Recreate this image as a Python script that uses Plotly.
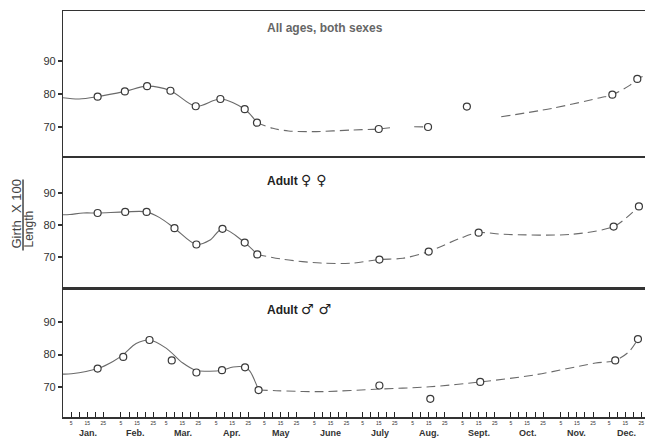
import plotly.graph_objects as go

# ---------------- data ----------------
months = ["Jan.", "Feb.", "Mar.", "Apr.", "May", "June", "July", "Aug.", "Sept.", "Oct.", "Nov.", "Dec."]
month_len = [31, 28, 31, 30, 31, 30, 31, 31, 30, 31, 30, 31]
day_ticks = [5, 10, 15, 20, 25]
day_tick_labels = ["5", "", "15", "", "25"]

SYM = "<span style='font-family:DejaVu Sans;font-size:14px'>"
panel_titles = ["<b>All ages, both sexes</b>",
                "<b>Adult " + SYM + "♀ ♀</span></b>",
                "<b>Adult " + SYM + "♂ ♂</span></b>"]

# observed points (day of year, girth x 100 / length)
all_x = [21.5, 38.4, 52.2, 66.7, 82.4, 97.7, 112.8, 120.4, 196, 226.6, 250.7, 341, 356.5]
all_y = [79.2, 80.8, 82.4, 81.0, 76.3, 78.5, 75.4, 71.3, 69.4, 70.0, 76.2, 79.8, 84.6]
fem_x = [21.5, 38.6, 51.9, 69.2, 82.8, 99, 112.8, 120.6, 196.4, 227, 258, 341.8, 357.5]
fem_y = [83.75, 84.1, 84.1, 79.0, 73.9, 78.8, 74.5, 70.8, 69.2, 71.7, 77.6, 79.5, 85.8]
mal_x = [21.5, 37.4, 53.7, 67.5, 82.8, 98.7, 113, 121.4, 196.4, 228, 259, 342.8, 356.9]
mal_y = [75.7, 79.3, 84.5, 78.2, 74.5, 75.2, 76.1, 69.1, 70.5, 66.4, 71.6, 78.2, 84.8]

# fitted curves
all_solid_x = [0, 10, 21.5, 38.4, 52.2, 66.7, 82.4, 97.7, 112.8, 120.4]
all_solid_y = [78.9, 78.5, 79.2, 80.8, 82.4, 81.0, 76.3, 78.5, 75.4, 71.3]
all_dash_x = [120.4, 130.3, 140, 155, 180, 196, 203, None, 218, 226.6, None,
              272, 304, 333.5, 341, 352, 356.5, 365]
all_dash_y = [71.3, 69.6, 68.8, 68.6, 69.1, 69.4, 69.8, None, 70.1, 70.0, None,
              73.1, 75.7, 78.9, 79.8, 82.7, 84.6, 86.3]

fem_solid_x = [0, 4.3, 12.6, 21.5, 38.6, 51.9, 60, 69.2, 82.8, 91, 99, 112.8, 120.6]
fem_solid_y = [83.2, 83.3, 83.75, 83.75, 84.1, 84.1, 82.3, 79.0, 73.9, 75.2, 78.8, 74.5, 70.8]
fem_dash_x = [120.6, 136.5, 160, 180, 196.4, 211, 227, 246.3, 258, 273, 316, 341.8, 349.8, 357.5]
fem_dash_y = [70.8, 69.3, 68.1, 68.1, 69.2, 69.6, 71.7, 75.8, 77.6, 77.1, 77.1, 79.5, 82.3, 85.8]

mal_solid_x = [0, 5.3, 21.5, 31, 37.4, 45.4, 53.7, 64, 74.4, 82.7, 91, 98.7, 105.6, 113, 116, 121.4]
mal_solid_y = [74.0, 74.1, 75.7, 77.9, 80.0, 83.4, 84.5, 82.0, 77.4, 75.1, 74.9, 75.2, 76.2, 76.1, 74.9, 69.1]
mal_dash_x = [121.4, 132.4, 159.3, 196.6, 227.6, 259, 293.3, 330.6, 342.8, 351.5, 356.9]
mal_dash_y = [69.1, 68.9, 68.6, 69.4, 70.1, 71.6, 73.8, 77.4, 78.2, 81.0, 84.8]

# ---------------- figure ----------------
month_start = [sum(month_len[:i]) for i in range(12)]
tickvals, ticktext = [], []
for s in month_start:
    for d, t in zip(day_ticks, day_tick_labels):
        tickvals.append(s + d)
        ticktext.append(t)

LINE = "#6a6a6a"
MK = dict(symbol="circle", size=7, color="white", line=dict(color="#3a3a3a", width=1.2))

fig = go.Figure()
panels = [
    ("x", "y", all_x, all_y, all_solid_x, all_solid_y, all_dash_x, all_dash_y),
    ("x2", "y2", fem_x, fem_y, fem_solid_x, fem_solid_y, fem_dash_x, fem_dash_y),
    ("x3", "y3", mal_x, mal_y, mal_solid_x, mal_solid_y, mal_dash_x, mal_dash_y),
]
for xa, ya, px, py, sx, sy, dx, dy in panels:
    fig.add_trace(go.Scatter(x=sx, y=sy, mode="lines", xaxis=xa, yaxis=ya,
                             line=dict(color=LINE, width=1.1, shape="spline", smoothing=0.9)))
    fig.add_trace(go.Scatter(x=dx, y=dy, mode="lines", xaxis=xa, yaxis=ya, connectgaps=False,
                             line=dict(color=LINE, width=1.1, shape="spline", smoothing=0.9,
                                       dash="9px,5px")))
    fig.add_trace(go.Scatter(x=px, y=py, mode="markers", xaxis=xa, yaxis=ya, marker=MK))

# month boundary dots on the time axis
fig.add_trace(go.Scatter(x=month_start[1:], y=[59.7] * 11, mode="markers", xaxis="x3", yaxis="y3",
                         cliponaxis=False, marker=dict(size=4, color="#222")))

axis_common = dict(range=[0, 365], showline=True, mirror=True, linecolor="#333", linewidth=1.3,
                   showgrid=False, zeroline=False)
yaxis_common = dict(showline=True, mirror=True, linecolor="#333", linewidth=1.3, showgrid=False,
                    zeroline=False, tickvals=[70, 80, 90], ticks="outside", ticklen=4,
                    tickwidth=1.5, tickcolor="#333",
                    tickfont=dict(family="Liberation Sans, Arial", size=11, color="#333"))

# the page body adds an 8 px offset; the figure is sized to compensate
OFF = 8
fig.update_layout(
    width=653 - OFF, height=441 - OFF,
    margin=dict(l=63 - OFF, r=2, t=11 - OFF, b=24),
    paper_bgcolor="white", plot_bgcolor="white",
    showlegend=False,
    xaxis=dict(domain=[0, 1], anchor="y", showticklabels=False, ticks="", **axis_common),
    xaxis2=dict(domain=[0, 1], anchor="y2", showticklabels=False, ticks="", **axis_common),
    xaxis3=dict(domain=[0, 1], anchor="y3", ticks="inside", ticklen=5, tickwidth=1,
                tickcolor="#222", tickvals=tickvals, ticktext=ticktext,
                tickfont=dict(family="Liberation Sans, Arial", size=5, color="#333"),
                **{**axis_common, "linewidth": 2}),
    yaxis=dict(domain=[0.6404, 1], anchor="x", range=[60.9, 105.2], **yaxis_common),
    yaxis2=dict(domain=[0.3153, 0.6404], anchor="x2", range=[60.0, 101.25], **yaxis_common),
    yaxis3=dict(domain=[0, 0.3153], anchor="x3", range=[60.8, 100.2], **yaxis_common),
)

annotations = []
title_pos = [(0.958, "#666"), (0.584, "#222"), (0.266, "#222")]
for t, (yy, col) in zip(panel_titles, title_pos):
    annotations.append(dict(text=t, xref="paper", yref="paper", x=0.343, y=yy, xanchor="left",
                            yanchor="middle", showarrow=False,
                            font=dict(family="Liberation Sans, Arial", size=12, color=col)))
for m, s, L in zip(months, month_start, month_len):
    annotations.append(dict(text="<b>" + m + "</b>", xref="x3", yref="paper", x=s + L / 2,
                            y=-0.0394, xanchor="center", yanchor="middle", showarrow=False,
                            font=dict(family="Liberation Sans, Arial", size=9, color="#333")))
annotations.append(dict(text="Girth  X 100", xref="paper", yref="paper", x=-0.0791, y=0.50,
                        textangle=-90, showarrow=False, xanchor="center", yanchor="middle",
                        font=dict(family="Liberation Sans, Arial", size=13, color="#444")))
annotations.append(dict(text="Length", xref="paper", yref="paper", x=-0.0570, y=0.463,
                        textangle=-90, showarrow=False, xanchor="center", yanchor="middle",
                        font=dict(family="Liberation Sans, Arial", size=12, color="#444")))
fig.update_layout(annotations=annotations)
fig.add_shape(type="line", xref="paper", yref="paper", x0=-0.0680, x1=-0.0680, y0=0.410, y1=0.585,
              line=dict(color="#444", width=1.5))

fig.write_html("out.html")
